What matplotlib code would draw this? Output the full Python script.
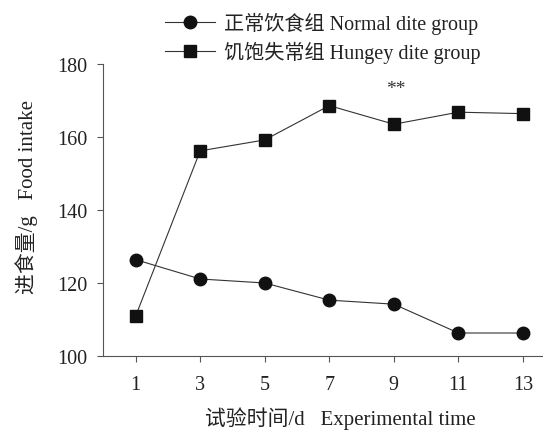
import matplotlib
matplotlib.use("Agg")
import matplotlib.pyplot as plt

days = [1, 3, 5, 7, 9, 11, 13]
normal = [126.4, 121.1, 120.0, 115.3, 114.2, 106.3, 106.3]
hungry = [110.9, 156.2, 159.2, 168.6, 163.5, 166.8, 166.4]
normal_label = "正常饮食组 Normal dite group"
hungry_label = "饥饱失常组 Hungey dite group"
yticks = [100, 120, 140, 160, 180]
sig_day, sig_val, sig_text = 9, 173.2, "**"

fam = ['Liberation Serif', 'Noto Sans CJK SC']
plt.rcParams['font.family'] = fam

fig = plt.figure(figsize=(5.43, 4.31), dpi=100)
ax = fig.add_axes([103/543, 1-357/431, 440/543, 292/431])

ax.plot(days, normal, color='#333333', lw=0.8, marker='o', ms=9,
        mfc='#111111', mec='#111111', label=normal_label)
ax.plot(days, hungry, color='#333333', lw=0.8, marker='s', ms=8.5,
        mfc='#111111', mec='#111111', label=hungry_label)
ax.text(sig_day + 0.05, sig_val, sig_text, ha='center', va='center', fontsize=14, color='#333333')

ax.set_xlim(-0.01, 13.62)
ax.set_ylim(100, 180)
ax.set_xticks(days)
ax.set_yticks(yticks)
for s in ['top', 'right']:
    ax.spines[s].set_visible(False)
for s in ['left', 'bottom']:
    ax.spines[s].set_color('#555555')
    ax.spines[s].set_linewidth(0.8)
ax.tick_params(direction='out', length=4, width=0.8, color='#555555',
               labelsize=14.5, labelcolor='#222222')
ax.tick_params(axis='y', pad=7)
ax.tick_params(axis='x', pad=10)

fig.text(340/543, 1/431, "试验时间/d   Experimental time", ha='center', va='bottom',
         fontsize=15, color='#222222')
fig.text(27/543, 1-197/431, "进食量/g   Food intake", ha='center', va='center',
         rotation=90, fontsize=15, color='#222222')

fig.legend(loc='upper left', bbox_to_anchor=(157/543, 1-5/431), frameon=False,
           fontsize=14.5, handlelength=2.5, labelspacing=0.35, handletextpad=0.45,
           labelcolor='#222222', borderaxespad=0)

fig.savefig('out.png', dpi=100)
